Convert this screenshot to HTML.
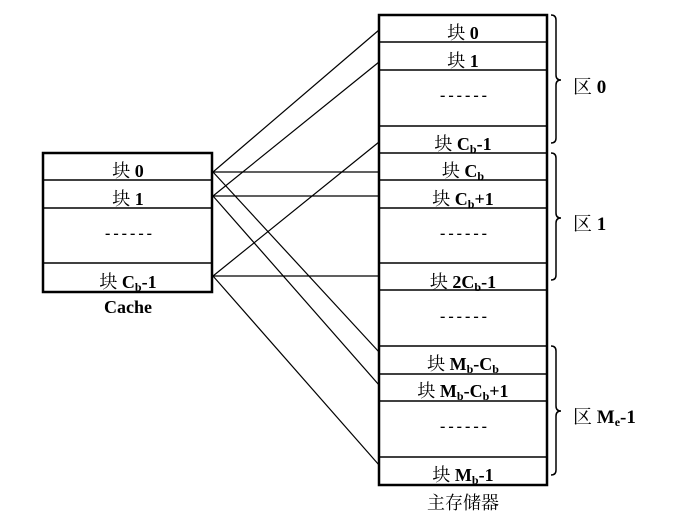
<!DOCTYPE html>
<html><head><meta charset="utf-8">
<style>
body{margin:0;background:#fff;}
svg{display:block;font-family:"Liberation Serif","Noto Serif CJK SC","Noto Sans CJK SC",serif;}
.t{font-size:18px;text-anchor:middle;}
.b{font-weight:bold;}
.s{font-size:12px;font-weight:bold;}
.d{font-size:16px;font-weight:bold;letter-spacing:3px;text-anchor:middle;}
</style></head>
<body>
<svg width="675" height="526" viewBox="0 0 675 526" xmlns="http://www.w3.org/2000/svg">
<g stroke="#000" stroke-width="1.2">
<line x1="213" y1="172" x2="379" y2="30"/>
<line x1="213" y1="196" x2="379" y2="62"/>
<line x1="213" y1="276" x2="379" y2="142"/>
<line x1="213" y1="172" x2="379" y2="172"/>
<line x1="213" y1="196" x2="379" y2="196"/>
<line x1="213" y1="276" x2="379" y2="276"/>
<line x1="213" y1="172" x2="379" y2="352"/>
<line x1="213" y1="196" x2="379" y2="385"/>
<line x1="213" y1="276" x2="379" y2="465"/>
</g>
<g fill="none" stroke="#000">
<rect x="43" y="153" width="169" height="139" stroke-width="2.5"/>
<line x1="43" y1="180" x2="212" y2="180" stroke-width="1.5"/>
<line x1="43" y1="208" x2="212" y2="208" stroke-width="1.5"/>
<line x1="43" y1="263" x2="212" y2="263" stroke-width="1.5"/>
</g>
<g>
<text class="t" x="128" y="177">块 <tspan class="b">0</tspan></text>
<text class="t" x="128" y="205">块 <tspan class="b">1</tspan></text>
<text class="d" x="130" y="238">------</text>
<text class="t" x="128" y="288">块 <tspan class="b">C</tspan><tspan class="s" dy="3">b</tspan><tspan class="b" dy="-3">-1</tspan></text>
<text class="t b" x="128" y="313">Cache</text>
</g>
<g fill="none" stroke="#000">
<rect x="379" y="15" width="168" height="470" stroke-width="2.5"/>
<line x1="379" y1="42" x2="547" y2="42" stroke-width="1.5"/>
<line x1="379" y1="70" x2="547" y2="70" stroke-width="1.5"/>
<line x1="379" y1="126" x2="547" y2="126" stroke-width="1.5"/>
<line x1="379" y1="153" x2="547" y2="153" stroke-width="1.5"/>
<line x1="379" y1="180" x2="547" y2="180" stroke-width="1.5"/>
<line x1="379" y1="208" x2="547" y2="208" stroke-width="1.5"/>
<line x1="379" y1="263" x2="547" y2="263" stroke-width="1.5"/>
<line x1="379" y1="290" x2="547" y2="290" stroke-width="1.5"/>
<line x1="379" y1="346" x2="547" y2="346" stroke-width="1.5"/>
<line x1="379" y1="374" x2="547" y2="374" stroke-width="1.5"/>
<line x1="379" y1="401" x2="547" y2="401" stroke-width="1.5"/>
<line x1="379" y1="457" x2="547" y2="457" stroke-width="1.5"/>
</g>
<g>
<text class="t" x="463" y="39">块 <tspan class="b">0</tspan></text>
<text class="t" x="463" y="67">块 <tspan class="b">1</tspan></text>
<text class="d" x="465" y="100">------</text>
<text class="t" x="463" y="150">块 <tspan class="b">C</tspan><tspan class="s" dy="3">b</tspan><tspan class="b" dy="-3">-1</tspan></text>
<text class="t" x="463" y="177">块 <tspan class="b">C</tspan><tspan class="s" dy="3">b</tspan></text>
<text class="t" x="463" y="205">块 <tspan class="b">C</tspan><tspan class="s" dy="3">b</tspan><tspan class="b" dy="-3">+1</tspan></text>
<text class="d" x="465" y="238">------</text>
<text class="t" x="463" y="288">块 <tspan class="b">2C</tspan><tspan class="s" dy="3">b</tspan><tspan class="b" dy="-3">-1</tspan></text>
<text class="d" x="465" y="321">------</text>
<text class="t" x="463" y="370">块 <tspan class="b">M</tspan><tspan class="s" dy="3">b</tspan><tspan class="b" dy="-3">-C</tspan><tspan class="s" dy="3">b</tspan></text>
<text class="t" x="463" y="397">块 <tspan class="b">M</tspan><tspan class="s" dy="3">b</tspan><tspan class="b" dy="-3">-C</tspan><tspan class="s" dy="3">b</tspan><tspan class="b" dy="-3">+1</tspan></text>
<text class="d" x="465" y="431">------</text>
<text class="t" x="463" y="481">块 <tspan class="b">M</tspan><tspan class="s" dy="3">b</tspan><tspan class="b" dy="-3">-1</tspan></text>
<text class="t" x="463" y="509">主存储器</text>
</g>
<g fill="none" stroke="#000" stroke-width="1.5">
<path d="M551 15 Q556 15 556 20 L556 75 Q556 80 561 80 Q556 80 556 85 L556 138 Q556 143 551 143"/>
<path d="M551 153 Q556 153 556 158 L556 213 Q556 218 561 218 Q556 218 556 223 L556 275 Q556 280 551 280"/>
<path d="M551 346 Q556 346 556 351 L556 406 Q556 411 561 411 Q556 411 556 416 L556 470 Q556 475 551 475"/>
</g>
<g>
<text x="573" y="93" style="font-size:19px">区 <tspan class="b">0</tspan></text>
<text x="573" y="230" style="font-size:19px">区 <tspan class="b">1</tspan></text>
<text x="573" y="423" style="font-size:19px">区 <tspan class="b">M</tspan><tspan class="s" dy="3">e</tspan><tspan class="b" dy="-3">-1</tspan></text>
</g>
</svg>
</body></html>
